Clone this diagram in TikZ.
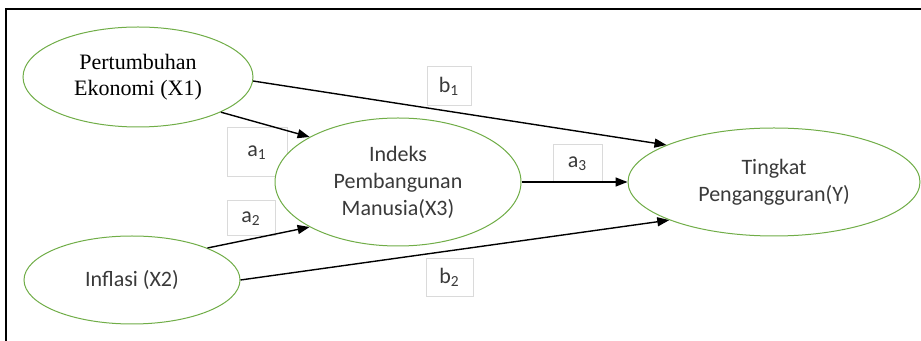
\documentclass[tikz,border=0pt]{standalone}
\usepackage{fontspec}
\setmainfont{Carlito}
\newfontfamily\serifx{Liberation Serif}
\usepackage{xcolor}
\usepackage{tikz}
\usetikzlibrary{shapes.geometric,arrows.meta,positioning}
\definecolor{varline}{HTML}{70AD47}
\definecolor{ink}{HTML}{3A3A3A}
\definecolor{boxline}{HTML}{DADADA}

\begin{document}
\begin{tikzpicture}[
    x=0.5pt, y=-0.5pt,
    font=\fontsize{11}{13.5}\selectfont,
    varnode/.style={ellipse, draw=varline, line width=0.5pt, fill=white,
                    inner sep=0pt, align=center, text=ink},
    coef/.style={rectangle, draw=boxline, line width=0.5pt, fill=white,
                 inner sep=0pt, text=ink},
    arrow/.style={-{Triangle[length=6pt,width=4.5pt]}, line width=0.7pt, draw=black}
]
\useasboundingbox (0,0) rectangle (921,341);

% Frame
\draw[line width=1pt] (5.5,341) -- (5.5,9) -- (921,9);

% Coefficient labels (behind the variables)
\node[coef, minimum width=30pt, minimum height=24.5pt] (la1) at (257,152.5) {a\textsubscript{1}};
\node[coef, minimum width=24pt, minimum height=17.5pt] (la2) at (251,218.5) {a\textsubscript{2}};
\node[coef, minimum width=22pt, minimum height=19.5pt] (lb1) at (449,86.5) {b\textsubscript{1}};
\node[coef, minimum width=24.5pt, minimum height=19pt] (la3) at (577.5,164) {a\textsubscript{3}};
\node[coef, minimum width=23.5pt, minimum height=19pt] (lb2) at (449.5,277.5) {b\textsubscript{2}};

% Variables
\node[varnode, minimum width=115pt, minimum height=50pt, text=black,
      font=\serifx\fontsize{11}{13}\selectfont] (x1) at (138,77)
    {Pertumbuhan\\Ekonomi (X1)};
\node[varnode, minimum width=108pt, minimum height=44pt] (x2) at (132,280)
    {Inflasi (X2)};
\node[varnode, minimum width=123pt, minimum height=64pt] (x3) at (398,182)
    {Indeks\\Pembangunan\\Manusia(X3)};
\node[varnode, minimum width=146pt, minimum height=54pt] (y) at (774,182)
    {Tingkat\\Pengangguran(Y)};

% Paths
\draw[arrow] (x1.-23) -- (x3.153);
\draw[arrow] (x2.23) -- (x3.207);
\draw[arrow] (x1.-2) -- (y.161);
\draw[arrow] (x2.0) -- (y.200);
\draw[arrow] (x3.east) -- (y.west);

\end{tikzpicture}
\end{document}
